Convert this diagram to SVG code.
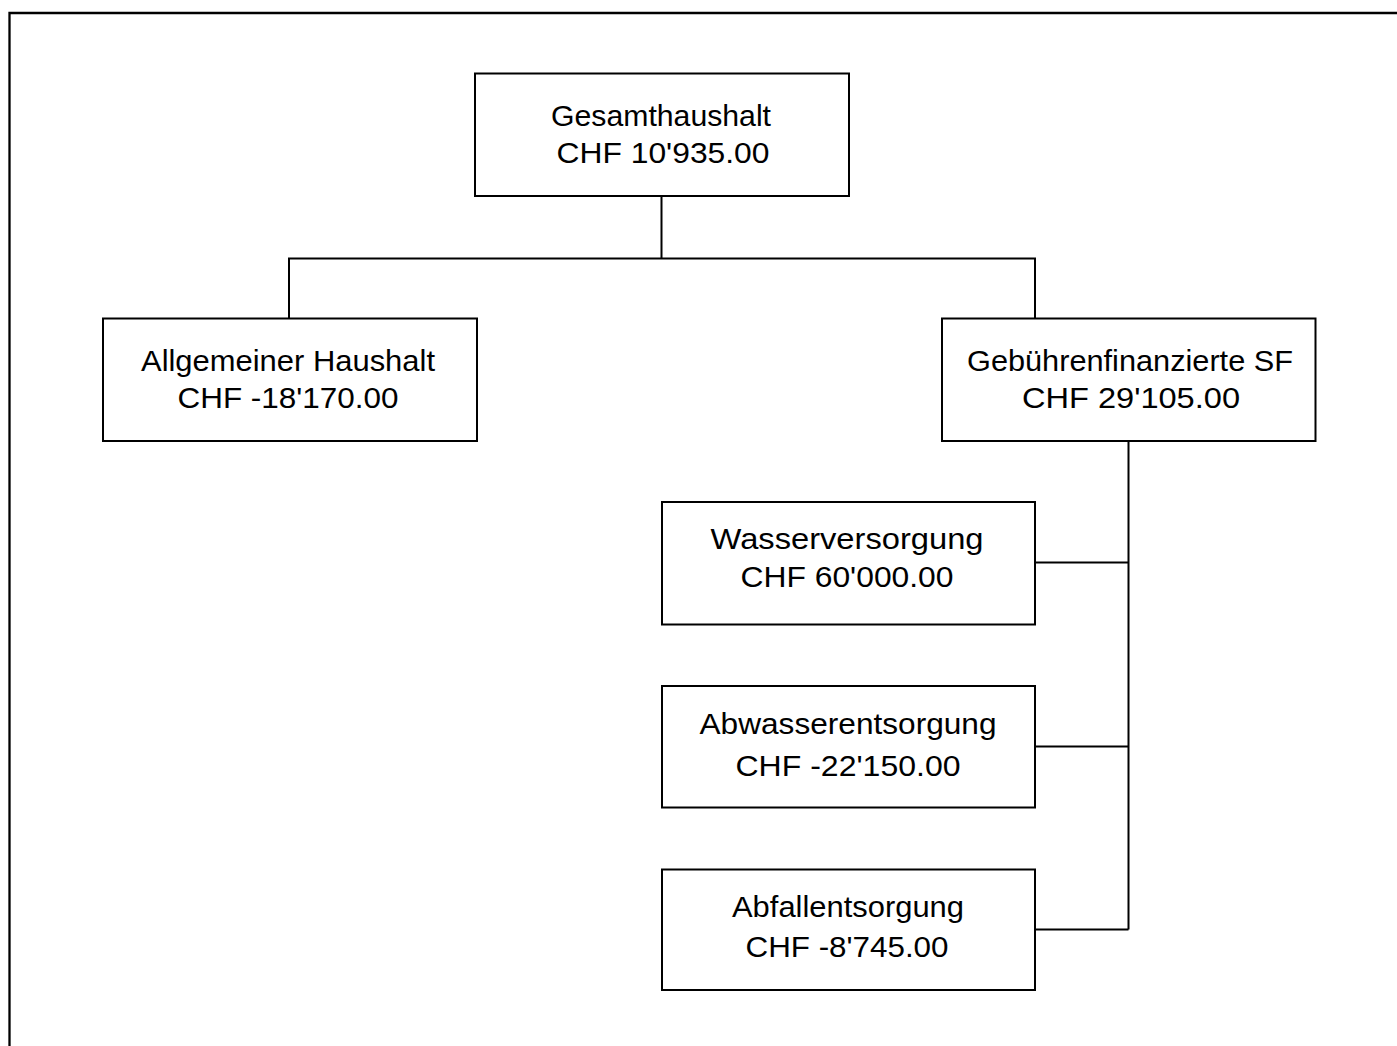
<svg xmlns="http://www.w3.org/2000/svg" width="1397" height="1046" viewBox="0 0 1397 1046">
<style>
.box{fill:#fff;stroke:#000;stroke-width:2}
.conn{fill:none;stroke:#000;stroke-width:2}
.t{font-family:"Liberation Sans",Arial,sans-serif;font-size:29px;fill:#000;text-anchor:middle}
</style>
<rect width="1397" height="1046" fill="#fff"/>
<path d="M9.5,1046 V13 H1397" fill="none" stroke="#000" stroke-width="2.3"/>
<g id="connectors">
<path class="conn" d="M661.5,196 V258.5 M289,318.5 V258.5 H1035 V318.5"/>
<path class="conn" d="M1128.5,441 V929.5 M1035,562.5 H1128.5 M1035,746.5 H1128.5 M1035,929.5 H1128.5"/>
</g>
<g id="gesamthaushalt">
<rect class="box" x="475" y="73.5" width="374" height="122.5"/>
<text class="t" x="661" y="126" textLength="220" lengthAdjust="spacingAndGlyphs">Gesamthaushalt</text>
<text class="t" x="663" y="163" textLength="213" lengthAdjust="spacingAndGlyphs">CHF 10'935.00</text>
</g>
<g id="allgemeiner">
<rect class="box" x="103" y="318.5" width="374" height="122.5"/>
<text class="t" x="288" y="371" textLength="294" lengthAdjust="spacingAndGlyphs">Allgemeiner Haushalt</text>
<text class="t" x="288" y="407.5" textLength="221" lengthAdjust="spacingAndGlyphs">CHF -18'170.00</text>
</g>
<g id="gebuehren">
<rect class="box" x="942" y="318.5" width="373.5" height="122.5"/>
<text class="t" x="1130" y="371" textLength="326" lengthAdjust="spacingAndGlyphs">Gebührenfinanzierte SF</text>
<text class="t" x="1131" y="408" textLength="218" lengthAdjust="spacingAndGlyphs">CHF 29'105.00</text>
</g>
<g id="wasser">
<rect class="box" x="662" y="502" width="373" height="122.5"/>
<text class="t" x="847" y="549" textLength="273" lengthAdjust="spacingAndGlyphs">Wasserversorgung</text>
<text class="t" x="847" y="587" textLength="213" lengthAdjust="spacingAndGlyphs">CHF 60'000.00</text>
</g>
<g id="abwasser">
<rect class="box" x="662" y="686" width="373" height="121.5"/>
<text class="t" x="848" y="734" textLength="297" lengthAdjust="spacingAndGlyphs">Abwasserentsorgung</text>
<text class="t" x="848" y="776" textLength="225" lengthAdjust="spacingAndGlyphs">CHF -22'150.00</text>
</g>
<g id="abfall">
<rect class="box" x="662" y="869.5" width="373" height="120.5"/>
<text class="t" x="848" y="917" textLength="232" lengthAdjust="spacingAndGlyphs">Abfallentsorgung</text>
<text class="t" x="847" y="957" textLength="203" lengthAdjust="spacingAndGlyphs">CHF -8'745.00</text>
</g>
</svg>
